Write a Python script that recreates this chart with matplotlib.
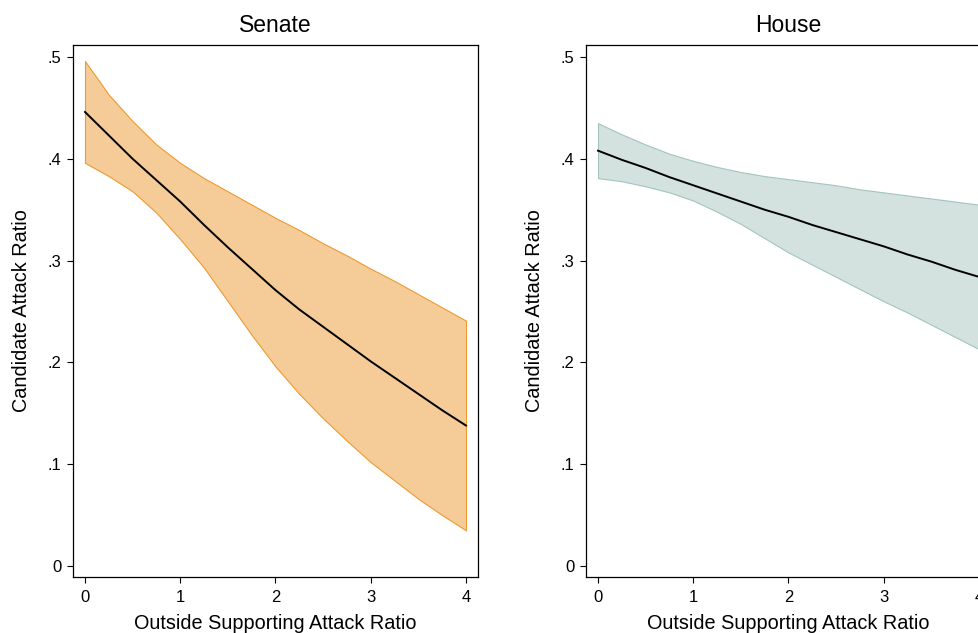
import matplotlib
matplotlib.use("Agg")
import matplotlib.pyplot as plt

plt.rcParams['font.family'] = ['Liberation Sans', 'DejaVu Sans']

# predicted values
x_vals = [0, 0.25, 0.5, 0.75, 1, 1.25, 1.5, 1.75, 2,
          2.25, 2.5, 2.75, 3, 3.25, 3.5, 3.75, 4]

senate_mid = [0.446, 0.423, 0.400, 0.379, 0.358, 0.335, 0.313, 0.292, 0.271,
              0.252, 0.235, 0.218, 0.201, 0.185, 0.169, 0.153, 0.138]
senate_hi = [0.496, 0.463, 0.437, 0.414, 0.396, 0.381, 0.368, 0.355, 0.342,
             0.330, 0.317, 0.305, 0.292, 0.280, 0.267, 0.254, 0.241]
senate_lo = [0.396, 0.383, 0.368, 0.347, 0.321, 0.293, 0.260, 0.227, 0.196,
             0.169, 0.145, 0.123, 0.102, 0.084, 0.066, 0.050, 0.035]

house_mid = [0.408, 0.399, 0.391, 0.382, 0.374, 0.366, 0.358, 0.350, 0.343,
             0.335, 0.328, 0.321, 0.314, 0.306, 0.299, 0.291, 0.284]
house_hi = [0.435, 0.424, 0.414, 0.405, 0.398, 0.392, 0.387, 0.383, 0.380,
            0.377, 0.374, 0.370, 0.367, 0.364, 0.361, 0.358, 0.355]
house_lo = [0.381, 0.378, 0.373, 0.367, 0.359, 0.348, 0.336, 0.322, 0.308,
            0.296, 0.284, 0.272, 0.260, 0.249, 0.237, 0.225, 0.213]

panels = [
    ("Senate", senate_mid, senate_hi, senate_lo, "#F5CB98", "#EE9A2F"),
    ("House", house_mid, house_hi, house_lo, "#D4E2DF", "#A3C4BD"),
]

y_ticks = [0, 0.1, 0.2, 0.3, 0.4, 0.5]
y_ticklabels = ["0", ".1", ".2", ".3", ".4", ".5"]
x_ticks = [0, 1, 2, 3, 4]

fig = plt.figure(figsize=(9.79, 6.33), dpi=100)
lefts = [73 / 979, 586 / 979]

for left, (title, mid, hi, lo, fc, ec) in zip(lefts, panels):
    ax = fig.add_axes([left, 56 / 633, 405 / 979, 532 / 633])
    ax.fill_between(x_vals, lo, hi, facecolor=fc, edgecolor=ec, linewidth=0.8, zorder=1)
    ax.plot(x_vals, mid, color="black", linewidth=1.4, zorder=2)
    ax.set_xlim(-0.126, 4.126)
    ax.set_ylim(-0.0108, 0.5118)
    ax.set_xticks(x_ticks)
    ax.set_yticks(y_ticks)
    ax.set_yticklabels(y_ticklabels)
    ax.tick_params(direction="out", length=4.5, width=0.8, labelsize=12, pad=4)
    ax.tick_params(axis="x", pad=5)
    for s in ax.spines.values():
        s.set_linewidth(0.9)
        s.set_color("black")
    ax.set_title(title, fontsize=16.5, pad=9)
    ax.set_xlabel("Outside Supporting Attack Ratio", fontsize=14.3, labelpad=6)
    ax.set_ylabel("Candidate Attack Ratio", fontsize=14.3, labelpad=12)

fig.savefig("out.png", dpi=100)
